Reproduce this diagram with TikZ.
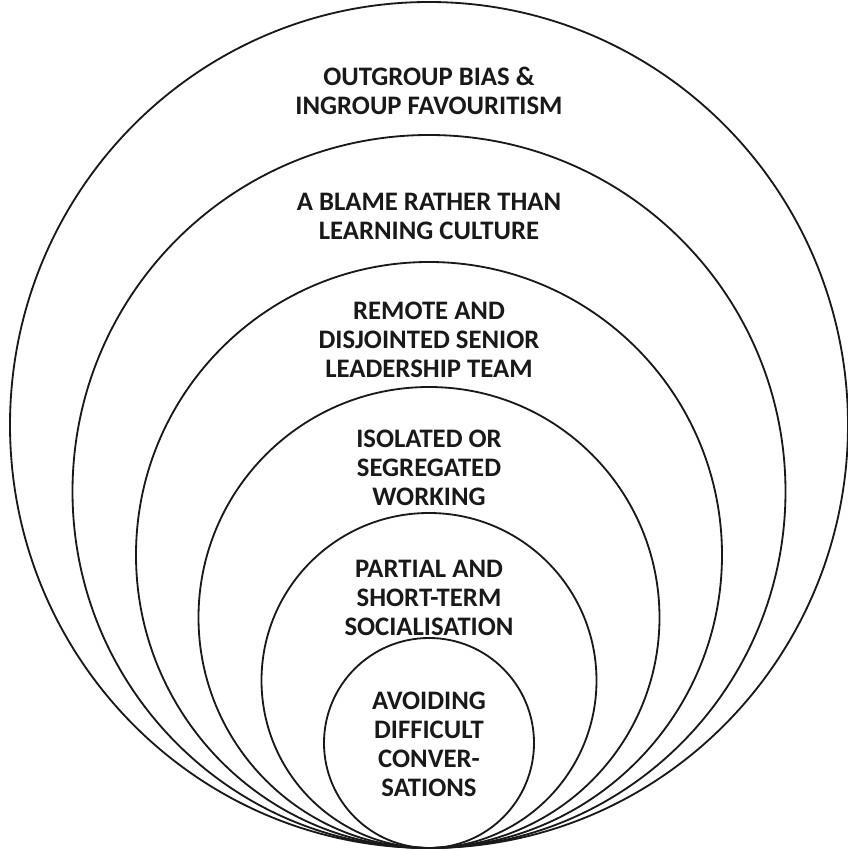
\documentclass[tikz,border=0pt]{standalone}
\usepackage{fontspec}
\setmainfont{Carlito}
\tikzset{
  ring/.style={draw, line width=1.3pt, black!90},
  ringlabel/.style={font=\fontsize{19}{20.6}\selectfont\bfseries, align=center, text=black!90},
}
\begin{document}
\begin{tikzpicture}[x=0.025cm,y=0.025cm]
    \useasboundingbox (0,0) rectangle (848,851);

    % centres of the rings, all touching at the bottom
    \coordinate (C1) at (429,426);
    \coordinate (C2) at (429,359.5);
    \coordinate (C3) at (429,296);
    \coordinate (C4) at (429,233.5);
    \coordinate (C5) at (429,170.5);
    \coordinate (C6) at (429,108);

    \draw[ring] (C1) ellipse [x radius=419, y radius=423];
    \draw[ring] (C2) circle [radius=356.5];
    \draw[ring] (C3) circle [radius=293];
    \draw[ring] (C4) circle [radius=230.5];
    \draw[ring] (C5) circle [radius=167.5];
    \draw[ring] (C6) circle [radius=105];

    \node[ringlabel] (L1) at (429,760.5) {OUTGROUP BIAS \&\\INGROUP FAVOURITISM};
    \node[ringlabel] (L2) at (429,634.5) {A BLAME RATHER THAN\\LEARNING CULTURE};
    \node[ringlabel] (L3) at (429,511) {REMOTE AND\\DISJOINTED SENIOR\\LEADERSHIP TEAM};
    \node[ringlabel] (L4) at (429,383) {ISOLATED OR\\SEGREGATED\\WORKING};
    \node[ringlabel] (L5) at (429,253.5) {PARTIAL AND\\SHORT-TERM\\SOCIALISATION};
    \node[ringlabel] (L6) at (429,106.5) {AVOIDING\\DIFFICULT\\CONVER-\\SATIONS};

\end{tikzpicture}
\end{document}
